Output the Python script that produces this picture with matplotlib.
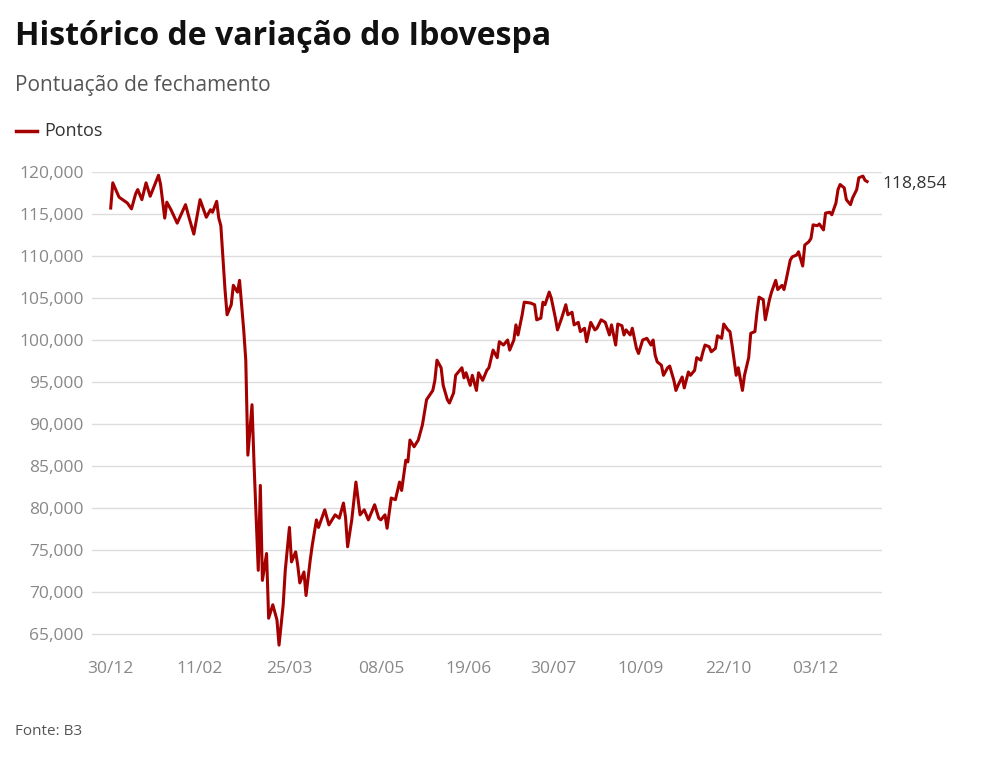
import matplotlib
matplotlib.use("Agg")
import matplotlib.pyplot as plt
import numpy as np
import datetime as dt
import matplotlib.dates as mdates

start = dt.date(2019, 12, 30)
day_offsets = [0,1,4,8,10,12,13,15,17,19,23,24,26,27,29,32,36,38,40,43,46,48,49,51,52,53,55,56,58,59,61,62,64,65,66,68,69,71,72,73,75,76,78,79,80,81,83,84,86,87,89,90,91,93,94,96,97,99,100,103,105,108,110,112,113,114,116,118,120,122,124,127,129,130,132,133,135,137,139,140,142,143,144,146,148,150,152,155,156,157,159,160,162,163,165,166,169,170,171,173,174,176,177,179,181,182,184,186,187,189,191,192,194,195,196,198,199,202,204,205,207,208,209,211,212,214,215,217,219,220,222,223,225,226,228,229,231,233,234,236,238,240,241,243,244,246,247,248,250,251,253,254,256,258,260,261,262,263,265,266,268,269,271,272,273,275,276,278,279,281,282,284,285,286,288,289,291,292,294,295,297,298,299,301,302,304,305,307,308,310,311,312,314,315,317,318,320,321,323,324,325,327,328,330,331,333,334,336,337,338,340,341,343,344,346,347,349,350,351,353,354,356,357,359,360,362,363,364]
points = [115700,118700,117000,116300,115600,117400,117900,116700,118700,117100,119600,118500,114500,116400,115500,113900,116100,114300,112600,116700,114600,115500,115200,116500,114500,113600,106000,103000,104200,106500,105700,107100,101200,97600,86300,92300,85100,72600,82700,71400,74600,66900,68500,67600,66700,63700,68500,72600,77700,73600,74800,73200,71100,72400,69600,73800,75600,78600,77700,79800,78000,79200,78800,80600,78900,75400,78600,83100,79200,79800,78600,80400,78800,78600,79200,77600,81200,81000,83100,82100,85700,85500,88100,87300,88100,89900,92900,94000,95200,97600,96700,94600,92900,92500,93700,95800,96700,95500,96100,94600,95800,94000,96100,95200,96400,96700,98800,97900,99800,99400,100000,98800,100000,101800,100600,103000,104500,104400,104200,102400,102600,104500,104200,105700,105000,102600,101200,102600,104200,103000,103300,101800,102100,101000,101400,99800,102100,101200,101400,102400,102100,100600,101800,99400,101900,101700,100600,101200,100600,101400,99000,98400,100000,100200,99400,100000,98200,97400,97000,95800,96700,96900,95200,94000,94600,95600,94300,96200,95800,96400,97900,97600,98600,99400,99200,98600,99000,100500,100200,101900,101200,101000,99400,95800,96700,94000,95800,97900,100800,101000,103300,105100,104800,102400,104800,105700,107100,106000,106500,106000,107100,109500,109900,110100,110500,108800,111300,111700,112100,113700,113600,113800,113100,115100,115200,114900,116300,117900,118500,118100,116700,116100,116900,117900,119300,119500,119000,118854]
tick_labels = ["30/12","11/02","25/03","08/05","19/06","30/07","10/09","22/10","03/12"]
y_ticks = [65000,70000,75000,80000,85000,90000,95000,100000,105000,110000,115000,120000]

plt.rcParams["font.family"] = "Open Sans"
dates = [start + dt.timedelta(days=d) for d in day_offsets]

fig = plt.figure(figsize=(9.84, 7.64), dpi=100)
ax = fig.add_axes([0.0935, 0.149, 0.8025, 0.626])
red = "#a50000"
ax.plot(dates, points, color=red, lw=2.2, clip_on=False)
ax.set_ylim(63100, 120000)
ax.set_xlim(start - dt.timedelta(days=9.1), start + dt.timedelta(days=371.3))
ax.set_yticks(y_ticks)
ax.set_yticklabels([f"{v:,}" for v in y_ticks])
tick_dates = [dt.datetime.strptime(t + ("/2019" if t == "30/12" else "/2020"), "%d/%m/%Y").date() for t in tick_labels]
ax.set_xticks(tick_dates)
ax.set_xticklabels(tick_labels)
ax.grid(axis="y", color="#dddddd", lw=1)
ax.set_axisbelow(True)
for s in ax.spines.values():
    s.set_visible(False)
ax.tick_params(axis="both", length=0, colors="#888888", labelsize=12.5)
ax.tick_params(axis="y", pad=6)
ax.tick_params(axis="x", pad=8)
ax.annotate(f"{points[-1]:,}", (dates[-1], points[-1]), xytext=(11, -2), textcoords="offset points",
            va="center", ha="left", fontsize=12.5, color="#333333")

fig.text(0.015, 0.952, "Histórico de variação do Ibovespa", fontsize=23, fontweight="bold", color="#111111", va="center")
fig.text(0.015, 0.888, "Pontuação de fechamento", fontsize=15, color="#555555", va="center")
fig.lines.append(plt.Line2D([0.016, 0.038], [0.829, 0.829], color=red, lw=2.5, transform=fig.transFigure))
fig.text(0.045, 0.829, "Pontos", fontsize=13, color="#333333", va="center")
fig.text(0.015, 0.042, "Fonte: B3", fontsize=11, color="#555555", va="center")
fig.savefig("out.png", dpi=100, facecolor="white")
